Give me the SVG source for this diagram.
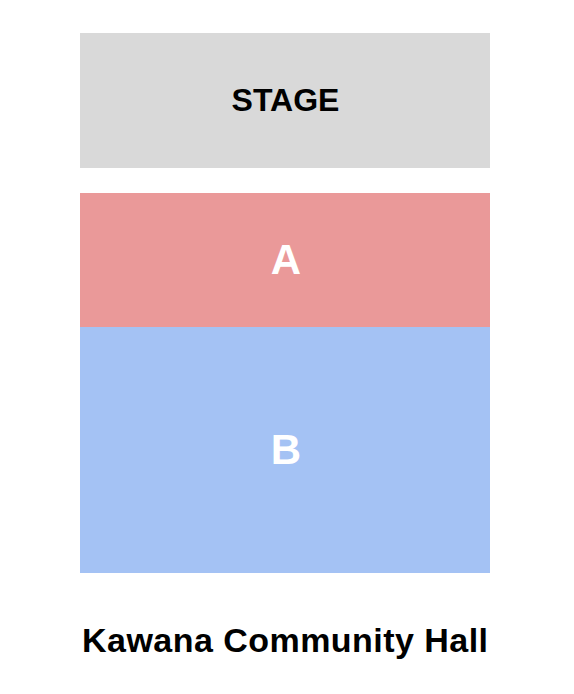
<svg xmlns="http://www.w3.org/2000/svg" width="574" height="694" viewBox="0 0 574 694">
<style>
.t{font-family:"Liberation Sans",Arial,sans-serif;font-weight:bold;text-anchor:middle}
.sec{fill:#ffffff;font-size:42px}
</style>
<rect width="574" height="694" fill="#ffffff"/>
<g id="stage">
<rect x="80" y="33" width="410" height="135" fill="#d9d9d9"/>
<text class="t" x="285.5" y="111" font-size="32" fill="#000000">STAGE</text>
</g>
<g id="section-a">
<rect x="80" y="193" width="410" height="134" fill="#ea9999"/>
<text class="t sec" x="286" y="274">A</text>
</g>
<g id="section-b">
<rect x="80" y="327" width="410" height="246" fill="#a4c2f4"/>
<text class="t sec" x="286" y="464">B</text>
</g>
<g id="title">
<text class="t" x="285" y="652" font-size="34" fill="#000000" textLength="406" lengthAdjust="spacing">Kawana Community Hall</text>
</g>
</svg>
